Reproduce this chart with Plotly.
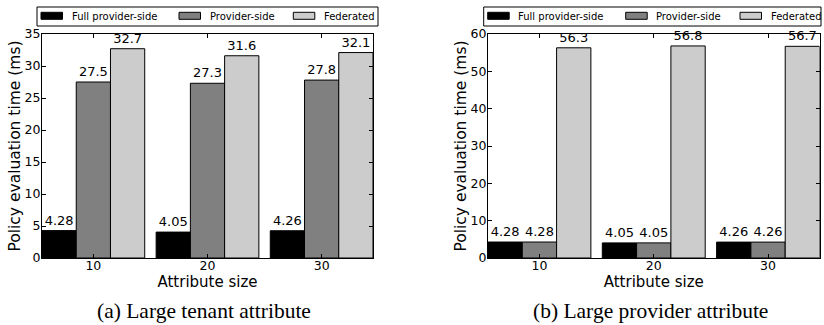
import plotly.graph_objects as go

# ---- data ----
categories = ["10", "20", "30"]
series_names = ["Full provider-side", "Provider-side", "Federated"]
series_colors = ["#000000", "#808080", "#cccccc"]

tenant_full = [4.28, 4.05, 4.26]
tenant_provider = [27.5, 27.3, 27.8]
tenant_federated = [32.7, 31.6, 32.1]

provider_full = [4.28, 4.05, 4.26]
provider_provider = [4.28, 4.05, 4.26]
provider_federated = [56.3, 56.8, 56.7]

left_ticks = [0, 5, 10, 15, 20, 25, 30, 35]
right_ticks = [0, 10, 20, 30, 40, 50, 60]

captions = ["(a) Large tenant attribute", "(b) Large provider attribute"]
x_title = "Attribute size"
y_title = "Policy evaluation time (ms)"

W, H = 824, 325
FONT = "DejaVu Sans"

fig = go.Figure()

panels = [
    dict(vals=[tenant_full, tenant_provider, tenant_federated], xa="x", ya="y"),
    dict(vals=[provider_full, provider_provider, provider_federated], xa="x2", ya="y2"),
]
for p in panels:
    for name, color, vals in zip(series_names, series_colors, p["vals"]):
        fig.add_trace(go.Bar(
            x=categories, y=vals, name=name, xaxis=p["xa"], yaxis=p["ya"],
            marker=dict(color=color, line=dict(color="#000000", width=1)),
            text=[f"{v:g}" for v in vals], textposition="outside",
            textfont=dict(family=FONT, size=13, color="#000000"),
            constraintext="none", cliponaxis=False, showlegend=False,
        ))

def px(x):
    return x / W

def py(y):
    return 1 - y / H

ydom = [py(258), py(34)]
common_x = dict(type="category", range=[-0.45, 2.45], showline=True, linecolor="#000000",
                linewidth=1, mirror="ticks", ticks="inside", ticklen=4, tickcolor="#000000",
                tickfont=dict(family=FONT, size=12.5, color="#000000"), automargin=False,
                ticklabelstandoff=-4,
                title=dict(text=x_title, font=dict(family=FONT, size=15, color="#000000"), standoff=0),
                showgrid=False, zeroline=False, fixedrange=True)
common_y = dict(showline=True, linecolor="#000000", linewidth=1, mirror="ticks", ticks="inside",
                ticklen=4, tickcolor="#000000", tickfont=dict(family=FONT, size=12.5, color="#000000"),
                automargin=False, ticklabelstandoff=-2,
                title=dict(text=y_title, font=dict(family=FONT, size=15.5, color="#000000"), standoff=0),
                showgrid=False, zeroline=False, fixedrange=True)

fig.update_layout(
    width=W, height=H, margin=dict(l=0, r=0, t=0, b=0, autoexpand=False),
    paper_bgcolor="#ffffff", plot_bgcolor="#ffffff",
    barmode="group", bargap=0.1, bargroupgap=0,
    xaxis=dict(common_x, domain=[px(42), px(373)], anchor="y"),
    yaxis=dict(common_y, domain=ydom, range=[0, 35], tickvals=left_ticks, anchor="x"),
    xaxis2=dict(common_x, domain=[px(488), px(819.5)], anchor="y2"),
    yaxis2=dict(common_y, domain=ydom, range=[0, 60], tickvals=right_ticks, anchor="x2"),
    showlegend=False,
)

# ---- manual matplotlib-style legends ----
shapes = []
annotations = []
for box_left, box_right in [(37, 378), (483.7, 821)]:
    shapes.append(dict(type="rect", xref="paper", yref="paper",
                       x0=px(box_left), x1=px(box_right), y0=py(26), y1=py(7),
                       line=dict(color="#000000", width=1), fillcolor="#ffffff", layer="above"))
    for k, (name, color) in enumerate(zip(series_names, series_colors)):
        off = [4, 142, 256.3][k]
        x0 = box_left + off
        shapes.append(dict(type="rect", xref="paper", yref="paper",
                           x0=px(x0), x1=px(x0 + 21.5), y0=py(19.3), y1=py(12.3),
                           line=dict(color="#000000", width=1), fillcolor=color, layer="above"))
        annotations.append(dict(text=name, xref="paper", yref="paper", x=px(x0 + 28.5), y=py(16.3),
                                xanchor="left", yanchor="middle", showarrow=False,
                                font=dict(family=FONT, size=10, color="#000000")))

for cap, cx in zip(captions, [204, 650]):
    annotations.append(dict(text=cap, xref="paper", yref="paper", x=px(cx), y=py(311),
                            xanchor="center", yanchor="middle", showarrow=False,
                            font=dict(family="Liberation Serif", size=21.5, color="#000000")))

fig.update_layout(shapes=shapes, annotations=annotations)
fig.write_html("out.html", config={"displayModeBar": False},
               post_script="document.body.style.margin='0';document.body.style.overflow='hidden';")
